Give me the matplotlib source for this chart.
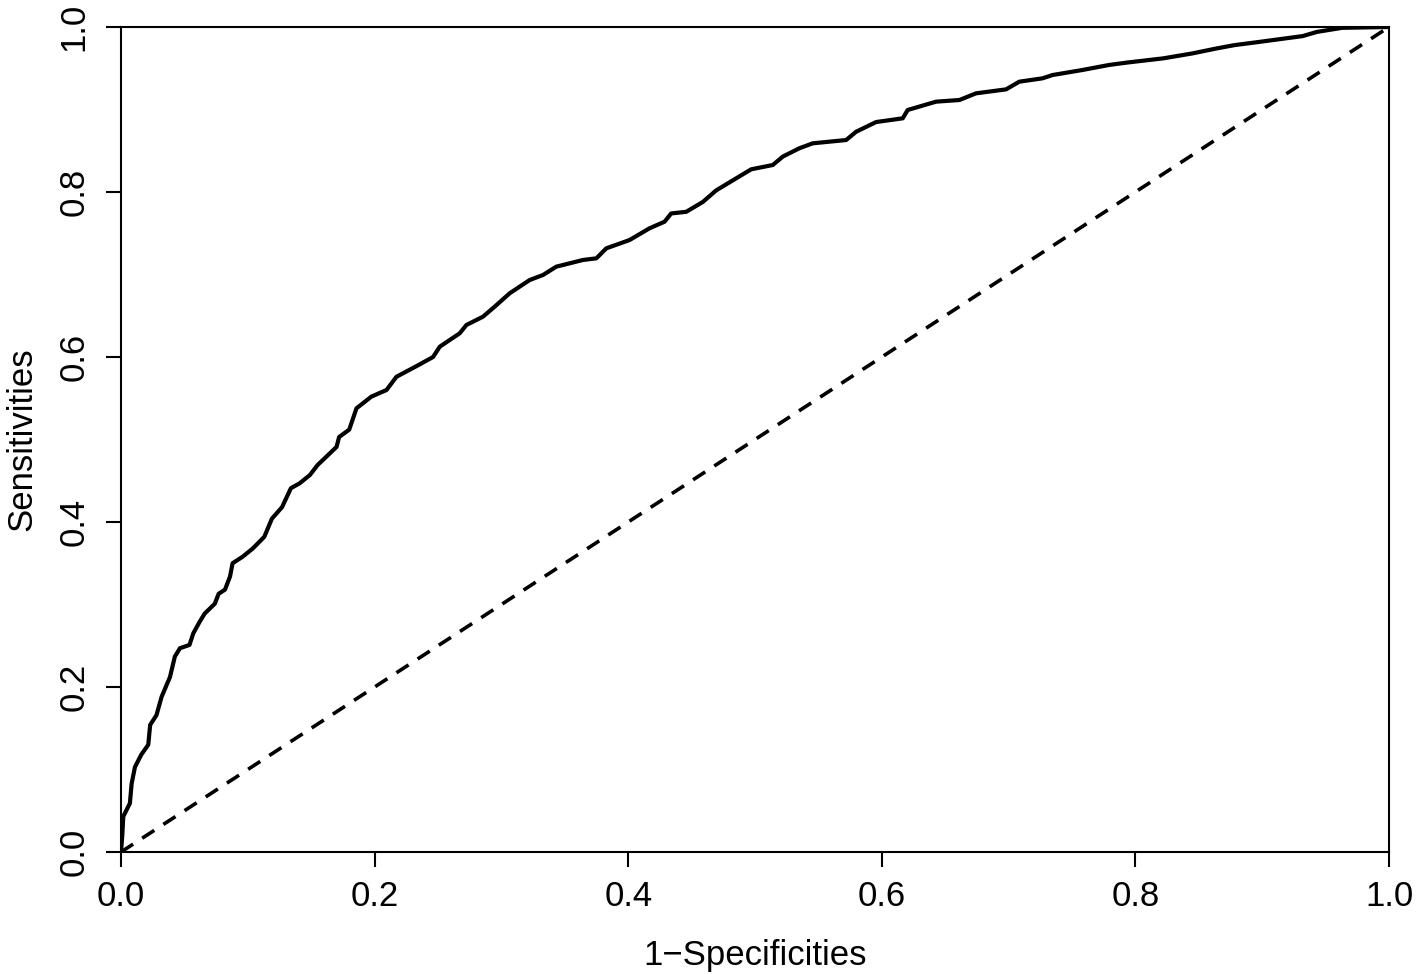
import matplotlib
matplotlib.use("Agg")
import matplotlib.pyplot as plt

plt.rcParams["font.family"] = ["Liberation Sans", "DejaVu Sans"]

# ROC 曲线数据
fpr = [0, 0.001, 0.0018, 0.007, 0.0084, 0.011, 0.016, 0.0215, 0.023, 0.028,
       0.032, 0.0386, 0.0425, 0.0465, 0.054, 0.057, 0.062, 0.066, 0.074, 0.077,
       0.082, 0.086, 0.088, 0.096, 0.104, 0.113, 0.119, 0.127, 0.134, 0.141,
       0.149, 0.155, 0.170, 0.172, 0.180,
       0.1857, 0.1975, 0.2094, 0.2172, 0.2343, 0.2461, 0.2514, 0.2671, 0.2724, 0.2855,
       0.2947, 0.3065, 0.3223, 0.3328, 0.3433, 0.3643, 0.3749,
       0.3827, 0.4011, 0.4168, 0.4287, 0.4339, 0.4458, 0.4589, 0.4694, 0.4852, 0.497,
       0.514, 0.522, 0.535, 0.5455, 0.5719, 0.5797,
       0.5955, 0.6165, 0.6204, 0.6428, 0.6612, 0.6743, 0.698, 0.7084, 0.7268, 0.7347,
       0.7583, 0.7793,
       0.794, 0.822, 0.845, 0.864, 0.878, 0.898, 0.932, 0.943, 0.963, 1.0]
tpr = [0, 0.02, 0.043, 0.059, 0.083, 0.103, 0.118, 0.130, 0.154, 0.166,
       0.188, 0.212, 0.237, 0.247, 0.251, 0.265, 0.279, 0.289, 0.301, 0.313,
       0.318, 0.334, 0.350, 0.358, 0.368, 0.382, 0.404, 0.418, 0.441, 0.447,
       0.457, 0.469, 0.491, 0.503, 0.512,
       0.5378, 0.552, 0.560, 0.576, 0.590, 0.600, 0.6125, 0.6287, 0.6388, 0.6489,
       0.661, 0.6772, 0.6933, 0.6994, 0.7095, 0.7176, 0.7196,
       0.7317, 0.7418, 0.756, 0.764, 0.774, 0.776, 0.788, 0.802, 0.8166, 0.8275,
       0.8327, 0.843, 0.853, 0.859, 0.863, 0.873,
       0.8848, 0.8893, 0.8994, 0.9095, 0.9115, 0.9196, 0.9244, 0.9337, 0.9378, 0.9418,
       0.9479, 0.954,
       0.957, 0.962, 0.968, 0.974, 0.978, 0.982, 0.989, 0.994, 0.999, 1.0]
ticks = [0.0, 0.2, 0.4, 0.6, 0.8, 1.0]
tick_labels = ["0.0", "0.2", "0.4", "0.6", "0.8", "1.0"]

fig = plt.figure(figsize=(14.17, 9.74), dpi=100)
ax = fig.add_axes([121 / 1417, 122 / 974, 1268 / 1417, 825 / 974])

ax.plot(fpr, tpr, color="black", linewidth=3.0, solid_joinstyle="round")
ax.plot([0, 1], [0, 1], color="black", linewidth=2.6, dashes=(4, 3))

ax.set_xlim(0, 1)
ax.set_ylim(0, 1)
for s in ax.spines.values():
    s.set_linewidth(1.5)

ax.set_xticks(ticks)
ax.set_xticklabels(tick_labels)
ax.set_yticks(ticks)
ax.set_yticklabels(tick_labels, rotation=90, va="center")
ax.tick_params(axis="both", direction="out", length=11, width=1.5, labelsize=25)
ax.tick_params(axis="x", pad=9)
ax.tick_params(axis="y", pad=11)

ax.set_xlabel("1\u2212Specificities", fontsize=25, labelpad=19)
ax.set_ylabel("Sensitivities", fontsize=25, labelpad=14)

fig.savefig("out.png", dpi=100)
